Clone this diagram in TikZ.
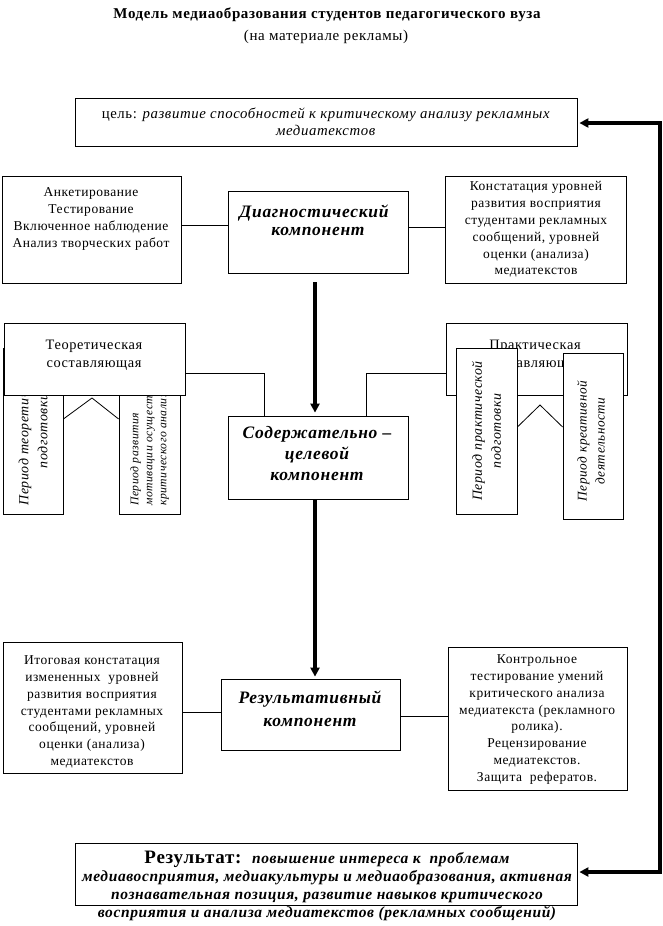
\documentclass[tikz,border=0pt]{standalone}
\usepackage{fontspec}
\setmainfont{Liberation Serif}[LetterSpace=4]
\usetikzlibrary{arrows.meta,calc}
\begin{document}
\begin{tikzpicture}[x=1pt,y=-1pt,
  box/.style={draw, line width=0.8pt, fill=white, inner sep=0pt},
  txt/.style={align=center, inner sep=0pt, font=\fontsize{13.5}{16.8}\selectfont},
  hdr/.style={align=center, inner sep=0pt, font=\bfseries\itshape\fontsize{17.5}{21}\selectfont},
  rtxt/.style={align=center, inner sep=0pt, rotate=90, font=\itshape\fontsize{13.9}{19}\selectfont},
  conn/.style={line width=0.8pt},
  bigarrow/.style={line width=3.5pt, -{Triangle[length=9pt,width=9pt]}},
  looparrow/.style={line width=3.5pt, {Triangle[length=9pt,width=9pt]}-{Triangle[length=9pt,width=9pt]}}
]
\useasboundingbox[fill=white] (0,0) rectangle (663,926);

% title
\node[txt, font=\bfseries\fontsize{15}{16}\selectfont] (title) at (327,15) {Модель медиаобразования студентов педагогического вуза};
\node[txt, font=\fontsize{15}{16}\selectfont] (subtitle) at (326,37) {(на материале рекламы)};

% goal
\node[box, minimum width=502, minimum height=48] (goal) at (326,122) {};
\node[txt, font=\fontsize{14.8}{17}\selectfont] (goalt) at (326,122) {цель: \textit{развитие способностей к критическому анализу рекламных}\\\textit{медиатекстов}};

% diagnostic row
\node[box, minimum width=179, minimum height=107] (diagL) at (91.5,229.5) {};
\node[txt] (diagLt) at (91,219) {Анкетирование\\Тестирование\\Включенное наблюдение\\Анализ творческих работ};
\node[box, minimum width=180, minimum height=82] (diag) at (318,232) {};
\node[hdr, font=\bfseries\itshape\fontsize{17.5}{18}\selectfont] (diagt) at (314,220) {Диагностический\\\hspace*{8pt}компонент};
\node[box, minimum width=181, minimum height=107] (diagR) at (535.5,229.5) {};
\node[txt] (diagRt) at (536,229.5) {Констатация уровней\\развития восприятия\\студентами рекламных\\сообщений, уровней\\оценки (анализа)\\медиатекстов};
\draw[conn] (diag.west |- 0,225) -- (diagL.east |- 0,225);
\draw[conn] (diag.east |- 0,227) -- (diagR.west |- 0,227);

% theoretical part
\node[box, minimum width=60, minimum height=166] (boxA) at (33,431) {};
\node[rtxt] (boxAt) at (33,431) {Период теоретической\\подготовки};
\node[box, minimum width=61, minimum height=164] (boxB) at (149.5,432) {};
\node[rtxt, align=left, anchor=west, font=\itshape\fontsize{11.7}{14}\selectfont] (boxBt) at (149.5,506) {Период развития\\мотивации осуществления\\критического анализа};
\node[box, minimum width=181, minimum height=72] (theor) at (94.5,359) {};
\node[txt, font=\fontsize{14.4}{18}\selectfont] (theort) at (94,355) {Теоретическая\\составляющая};
\coordinate (zL) at (92,398);
\draw[conn] (boxA.east |- 0,419) -- (zL) -- (boxB.west |- 0,419);

% practical part
\node[box, minimum width=181, minimum height=72] (pract) at (536.5,359) {};
\node[txt, font=\fontsize{14.4}{18}\selectfont] (practt) at (535,355) {Практическая\\составляющая};
\node[box, minimum width=61, minimum height=166] (boxC) at (486.5,431) {};
\node[rtxt] (boxCt) at (486.5,431) {Период практической\\подготовки};
\node[box, minimum width=60, minimum height=166] (boxD) at (593,436) {};
\node[rtxt, font=\itshape\fontsize{13.3}{18}\selectfont] (boxDt) at (591,441) {Период креативной\\деятельности};
\coordinate (zR) at (540,405);
\draw[conn] (boxC.east |- 0,427) -- (zR) -- (boxD.west |- 0,427);

% content component
\node[box, minimum width=180, minimum height=83] (content) at (318,457.5) {};
\node[hdr] (contentt) at (317,454) {Содержательно –\\целевой\\компонент};
\draw[conn] ($(content.north)+(-54,0)$) |- (theor.east |- 0,373);
\draw[conn] ($(content.north)+(48,0)$) |- (pract.west |- 0,373);
\draw[bigarrow] ($(diag.south)+(-3,9)$) -- ($(content.north)+(-3,-3)$);

% result component
\node[box, minimum width=179, minimum height=131] (resL) at (92.5,707.5) {};
\node[txt] (resLt) at (92,712) {Итоговая констатация\\измененных~ уровней\\развития восприятия\\студентами рекламных\\сообщений, уровней\\оценки (анализа)\\медиатекстов};
\node[box, minimum width=179, minimum height=71] (res) at (310.5,714.5) {};
\node[hdr, font=\bfseries\itshape\fontsize{17.5}{23}\selectfont] (rest) at (310,708.5) {Результативный\\компонент};
\node[box, minimum width=179, minimum height=143] (resR) at (537.5,718.5) {};
\node[txt] (resRt) at (537,719.5) {Контрольное\\тестирование умений\\критического анализа\\медиатекста (рекламного\\ролика).\\Рецензирование\\медиатекстов.\\Защита~ рефератов.};
\draw[conn] (res.west |- 0,712) -- (resL.east |- 0,712);
\draw[conn] (res.east |- 0,716) -- (resR.west |- 0,716);
\draw[bigarrow] ($(content.south)+(-3,0)$) -- ($(content.south |- res.north)+(-3,-2)$);

% final result
\node[box, minimum width=502, minimum height=62] (final) at (326,874) {};
\node[txt, font=\bfseries\itshape\fontsize{15.5}{18}\selectfont] (finalt) at (327,886) {{\upshape\fontsize{19}{18}\selectfont Результат:}~ повышение интереса к~ проблемам\\медиавосприятия, медиакультуры и медиаобразования, активная\\познавательная позиция, развитие навыков критического\\восприятия и анализа медиатекстов (рекламных сообщений)};

% feedback loop
\coordinate (loopT) at (660,123);
\coordinate (loopB) at (660,872);
\draw[looparrow] ($(goal.east |- loopT)+(2,0)$) -- (loopT) -- (loopB) -- ($(final.east |- loopB)+(2,0)$);
\end{tikzpicture}
\end{document}
